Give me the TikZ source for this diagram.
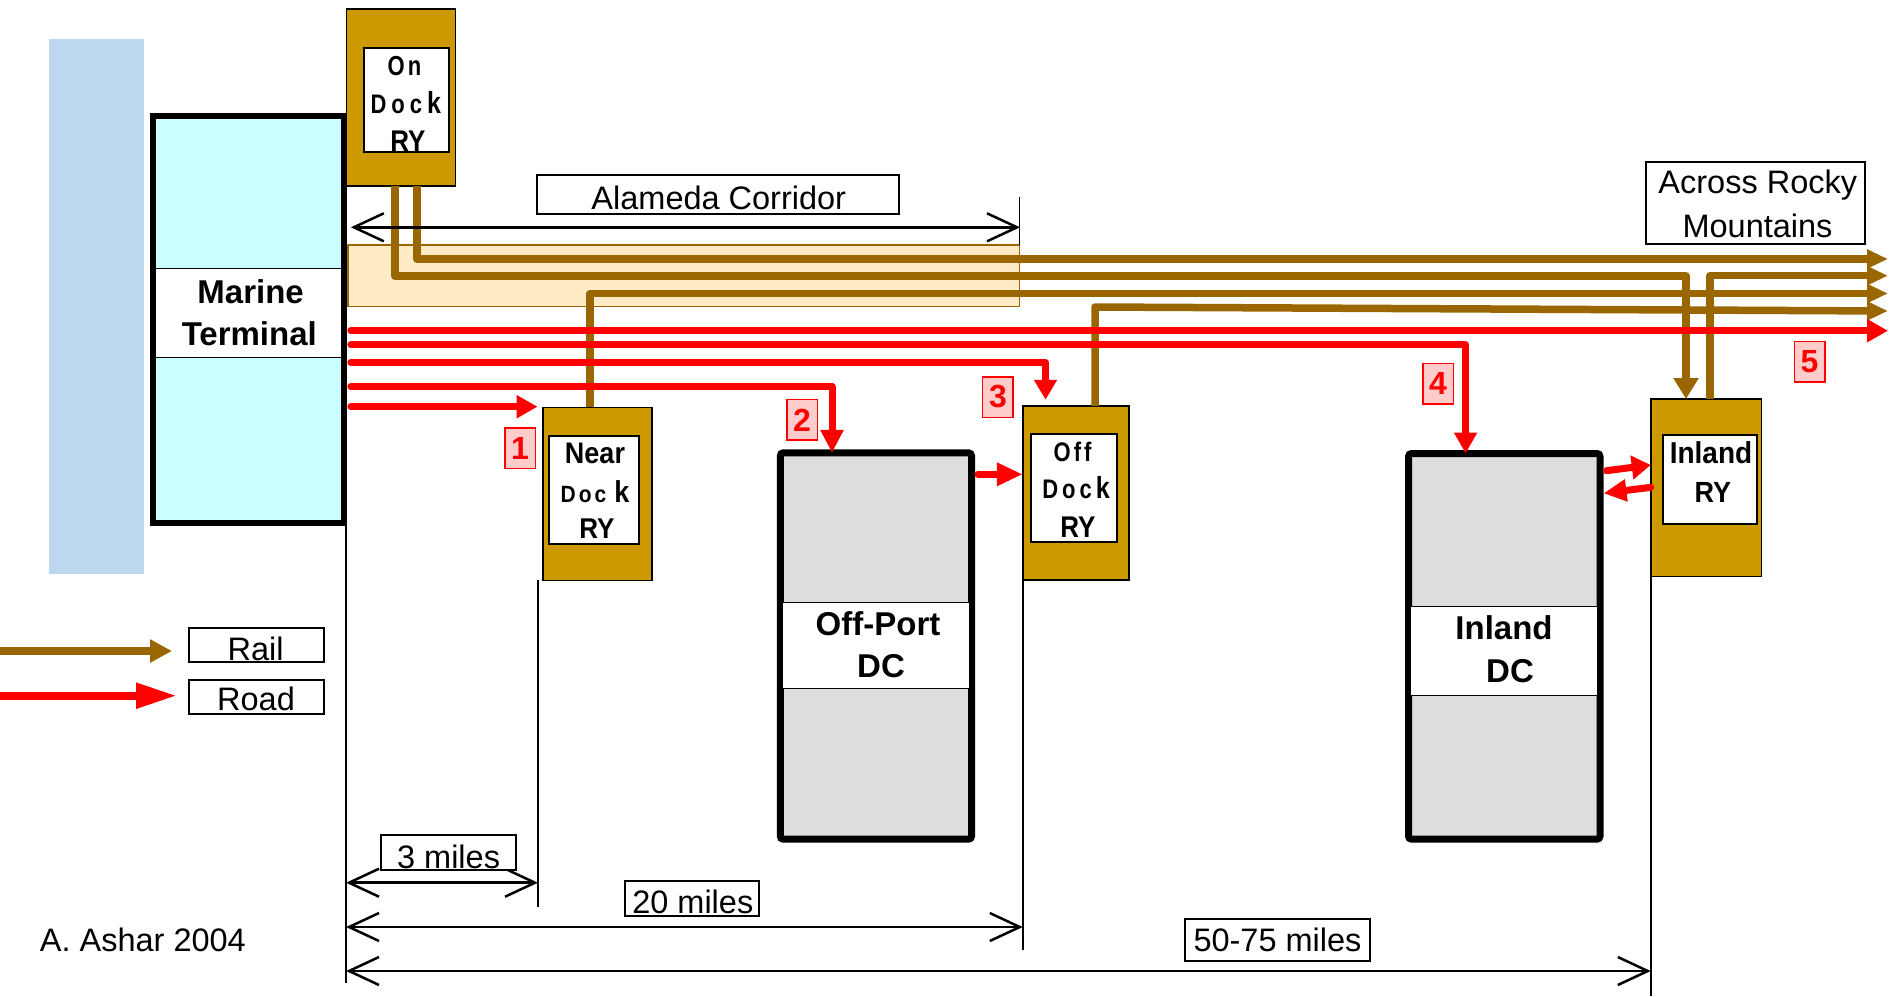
\documentclass[tikz,border=0pt]{standalone}
\usepackage{fontspec}
\usepackage{graphicx}
\setmainfont{Liberation Sans}
\usetikzlibrary{arrows.meta}
\definecolor{gold}{HTML}{CC9900}
\definecolor{railc}{HTML}{996600}
\definecolor{termc}{HTML}{CCFFFF}
\definecolor{seac}{HTML}{BDD7EE}
\definecolor{dcgray}{HTML}{DDDDDD}
\definecolor{peach}{HTML}{FFEBC6}
\definecolor{pinkc}{HTML}{FFCCCC}
\newcommand{\fsz}[1]{\fontsize{#1pt}{#1pt}\selectfont}
\newcommand{\vst}[2]{\scalebox{1}[#1]{#2}}
\begin{document}
\begin{tikzpicture}[x=1pt,y=-1pt,
  box/.style={rectangle, inner sep=0pt, outer sep=0pt},
  yard/.style={box, draw=black, line width=1.5pt, fill=gold},
  yardin/.style={box, draw=black, line width=2pt, fill=white},
  dcbox/.style={box, draw=black, line width=7pt, fill=dcgray, rounded corners=3pt},
  band/.style={box, draw=black, line width=1pt, fill=white},
  tbox/.style={box, draw=black, line width=2pt, fill=white},
  txt/.style={inner sep=0pt, anchor=base},
  reg/.style={txt, font=\fsz{32.5}},
  bld/.style={txt, font=\bfseries\fsz{33}},
  ylbl/.style={txt, font=\bfseries\fsz{26}},
  rail/.style={draw=railc, line width=7.5pt, line join=round},
  road/.style={draw=red, line width=7pt, line join=round, line cap=round},
  railtip/.style={-{Triangle[length=21pt,width=18pt]}},
  roadtip/.style={-{Triangle[length=21pt,width=22pt]}},
  num/.style={box, draw=red, line width=1.5pt, fill=pinkc, text=red, font=\bfseries\fsz{32}, minimum width=30.5pt, minimum height=40.5pt},
  dim/.style={line width=2.5pt, {Straight Barb[length=30pt,width=28pt]}-{Straight Barb[length=30pt,width=28pt]}},
  ext/.style={line width=1.5pt}
]
\useasboundingbox (0,0) rectangle (1890,996);

% sea
\node[box, fill=seac, minimum width=94.5pt, minimum height=535pt] (sea) at (96.7,306.4) {};

% Alameda corridor band
\node[box, draw=railc, line width=1.5pt, fill=peach, minimum width=671.5pt, minimum height=61.7pt] (alameda) at (683.75,275.85) {};

% Marine terminal
\node[box, draw=black, line width=6pt, fill=termc, minimum width=191.7pt, minimum height=406.2pt] (mt) at (248.5,319.4) {};
\node[band, minimum width=186pt, minimum height=89pt] (mtband) at (248.5,312.5) {};
\node[bld] (mt1) at (250.6,303) {Marine};
\node[bld] (mt2) at (249.3,345.5) {Terminal};

% On Dock RY
\node[yard, minimum width=108.8pt, minimum height=176.9pt] (odk) at (400.85,97.5) {};
\node[yardin, minimum width=84.7pt, minimum height=104.6pt] (odkin) at (406.65,100) {};
\node[ylbl, font=\bfseries\fsz{22}] (odk1) at (404.5,75.5) {\vst{1.25}{O\kern3pt n}};
\node[ylbl, font=\bfseries\fsz{22}] (odk2) at (405.8,113.3) {\vst{1.22}{D\kern5pt o\kern5pt c\kern5pt{\fsz{25}k}}};
\node[ylbl] (odk3) at (408,151.5) {\vst{1.15}{RY}};

% Near Dock RY
\node[yard, minimum width=108.8pt, minimum height=172.8pt] (ndk) at (597.45,493.85) {};
\node[yardin, minimum width=90.2pt, minimum height=108pt] (ndkin) at (593.9,490) {};
\node[ylbl, font=\bfseries\fsz{27}] (ndk1) at (595,463) {\vst{1.1}{Near}};
\node[ylbl, font=\bfseries\fsz{21}] (ndk2) at (595,502) {\vst{1.12}{D\kern3pt o\kern3pt c\kern8pt{\fsz{27}k}}};
\node[ylbl] (ndk3) at (597,538) {\vst{1.1}{RY}};

% Off Dock RY
\node[yard, minimum width=106.4pt, minimum height=174.2pt] (ofk) at (1075.95,492.85) {};
\node[yardin, minimum width=86.2pt, minimum height=108pt] (ofkin) at (1073.8,487.7) {};
\node[ylbl, font=\bfseries\fsz{22}] (ofk1) at (1072.6,461.5) {\vst{1.22}{O\kern3pt f\kern3pt f}};
\node[ylbl, font=\bfseries\fsz{22}] (ofk2) at (1076,498.8) {\vst{1.22}{D\kern4pt o\kern4pt c\kern4pt{\fsz{25}k}}};
\node[ylbl] (ofk3) at (1078,537) {\vst{1.15}{RY}};

% Inland RY
\node[yard, minimum width=110.8pt, minimum height=177.5pt] (irk) at (1706.15,487.8) {};
\node[yardin, minimum width=94.4pt, minimum height=88.7pt] (irkin) at (1709.8,479.65) {};
\node[ylbl, font=\bfseries\fsz{28}] (irk1) at (1711,463.5) {\vst{1.08}{Inland}};
\node[ylbl, font=\bfseries\fsz{27}] (irk2) at (1712.8,502) {\vst{1.08}{RY}};

% Off-Port DC
\node[dcbox, minimum width=191.2pt, minimum height=386.4pt] (opdc) at (875.9,646) {};
\node[band, minimum width=187pt, minimum height=85.6pt] (opband) at (876,645.5) {};
\node[bld] (op1) at (878,635) {Off-Port};
\node[bld] (op2) at (881,677) {DC};

% Inland DC
\node[dcbox, minimum width=191.5pt, minimum height=385.7pt] (idc) at (1504.25,646.35) {};
\node[band, minimum width=187pt, minimum height=88.3pt] (idband) at (1504.25,650.85) {};
\node[bld] (id1) at (1504,639.3) {Inland};
\node[bld] (id2) at (1510,682.3) {DC};

% helper coordinates
\coordinate (mtR) at ([xshift=6.5pt]mt.east);
\coordinate (mtX) at ([xshift=1.7pt]mt.south east);
\coordinate (opdcR) at ([xshift=6.5pt]opdc.east);
\coordinate (idcR) at ([xshift=6.5pt]idc.east);
\coordinate (idcR2) at ([xshift=3.5pt]idc.east);

% rails
\draw[rail, railtip] (odk.south -| 417,0) |- (1888,259);
\draw[rail, -{Triangle[length=21pt,width=24pt]}] (odk.south -| 395,0) |- (1686,276) -- (irk.north -| 1686,0);
\draw[rail, railtip] (ndk.north -| 590,0) |- (1888,293.5);
\draw[rail, railtip] (ofk.north -| 1095,0) -- (1095,307) -- (1888,311);
\draw[rail, railtip] (irk.north -| 1710,0) |- (1888,275.7);

% roads
\draw[road, roadtip, shorten >=5.5pt] (mtR |- 0,406.7) -- (ndk.west |- 0,406.7);
\draw[road, -{Triangle[length=23pt,width=22pt]}] (mtR |- 0,386.7) -| (opdc.north -| 832,0);
\draw[road, -{Triangle[length=20pt,width=22pt]}, shorten >=6pt] (mtR |- 0,362.3) -| (ofk.north -| 1045.5,0);
\draw[road, roadtip] (mtR |- 0,344.7) -| (idc.north -| 1465.6,0);
\draw[road, roadtip] (mtR |- 0,330.7) -- (1888,330.7);
\draw[road, -{Triangle[length=26pt,width=22pt]}] (opdcR |- 0,474.3) -- (ofk.west |- 0,474.3);
\draw[road, -{Triangle[length=19pt,width=23pt]}] (idcR |- 0,470.7) -- (irk.west |- 0,465);
\draw[road, -{Triangle[length=23pt,width=21pt]}] (irk.west |- 0,487.3) -- (idcR2 |- 0,493.3);

% extension lines
\draw[ext] (mtX) -- (mtX |- 0,983);
\draw[ext] (ndk.south -| 538,0) -- (538,907);
\draw[ext] (ofk.south west) -- (ofk.south west |- 0,950);
\draw[ext] (irk.south west) -- (irk.south west |- 0,996);
\draw[ext] (alameda.north east) -- ++(0,-48);

% dimension arrows
\draw[dim] (mtR |- 0,227.3) -- (1020,227.3);
\draw[dim] (mtX |- 0,882.7) -- (538,882.7);
\draw[dim] (mtX |- 0,927) -- (ofk.south west |- 0,927);
\draw[dim] (mtX |- 0,971) -- (irk.south west |- 0,971);

% text boxes
\node[tbox, minimum width=362.2pt, minimum height=39pt] (alam) at (717.6,194.8) {};
\node[reg] (alamt) at (718.8,209.5) {Alameda Corridor};
\node[tbox, minimum width=218.6pt, minimum height=82.3pt] (rocky) at (1755.7,202.85) {};
\node[reg] (rocky1) at (1757.8,193.5) {Across Rocky};
\node[reg] (rocky2) at (1757.5,237.5) {Mountains};

\node[tbox, minimum width=135pt, minimum height=34.7pt] (d3) at (448,852.7) {};
\node[reg] (d3t) at (448.6,868.3) {3 miles};
\node[tbox, minimum width=134.8pt, minimum height=35pt] (d20) at (692,898.8) {};
\node[reg] (d20t) at (692.8,913.3) {20 miles};
\node[tbox, minimum width=185pt, minimum height=41.4pt] (d50) at (1277.5,940) {};
\node[reg] (d50t) at (1277.5,951) {50-75 miles};

% legend
\node[tbox, minimum width=135pt, minimum height=34.6pt] (legrail) at (256,645) {};
\node[reg] (legrailt) at (255.6,660) {Rail};
\node[tbox, minimum width=135pt, minimum height=34.6pt] (legroad) at (256,697) {};
\node[reg] (legroadt) at (256,710.5) {Road};
\draw[rail, -{Triangle[length=22pt,width=22pt]}, shorten >=16.5pt] (0,651) -- (legrail.west |- 0,651);
\draw[road, line cap=butt, line width=8pt, -{Triangle[length=41pt,width=24pt]}, shorten >=11.5pt] (0,695.7) -- (legroad.west |- 0,695.7);

\node[reg] (ashar) at (142.85,951.7) {A. Ashar 2004};

% number labels
\node[num] (n1) at (520,448) {1};
\node[num] (n2) at (802,419.9) {2};
\node[num] (n3) at (997.9,397) {3};
\node[num] (n4) at (1438,383.7) {4};
\node[num] (n5) at (1809.5,361.7) {5};
\end{tikzpicture}
\end{document}
